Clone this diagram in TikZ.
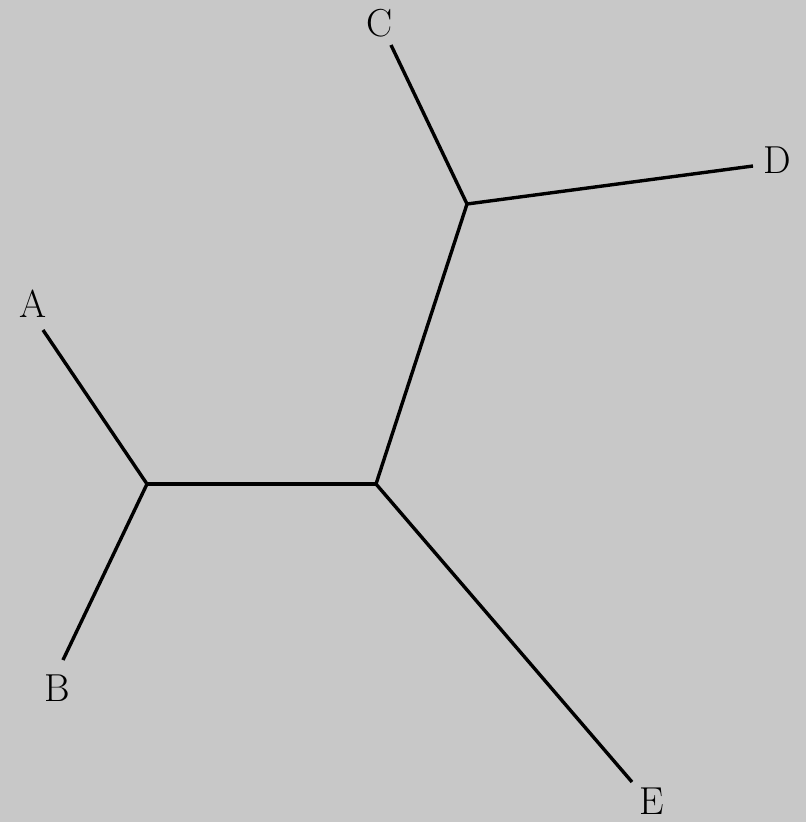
\documentclass[tikz,border=0pt]{standalone}
\begin{document}
\begin{tikzpicture}[x=1pt,y=-1pt,
  edge/.style={line width=3.4pt, black},
  lbl/.style={inner sep=0pt, font=\fontsize{39}{46}\selectfont}]
\fill[fill={rgb,255:red,200;green,200;blue,200}] (0,0) rectangle (806,822);
\useasboundingbox (0,0) rectangle (806,822);
% junctions
\coordinate (jab) at (147,484);
\coordinate (jx) at (376,484);
\coordinate (jcd) at (467,204);
% free ends
\coordinate (ea) at (43,330);
\coordinate (eb) at (63,660);
\coordinate (ec) at (391,45);
\coordinate (ed) at (753,166);
\coordinate (ee) at (632,782);
% labels
\node[lbl] (A) at (33,304) {A};
\node[lbl] (B) at (57,688) {B};
\node[lbl] (C) at (380,23) {C};
\node[lbl] (D) at (777,160) {D};
\node[lbl] (E) at (652,801) {E};
% edges
\draw[edge] (ea) -- (jab) -- (eb);
\draw[edge] (jab) -- (jx);
\draw[edge] (jx) -- (jcd);
\draw[edge] (jx) -- (ee);
\draw[edge] (ec) -- (jcd) -- (ed);
\end{tikzpicture}
\end{document}
